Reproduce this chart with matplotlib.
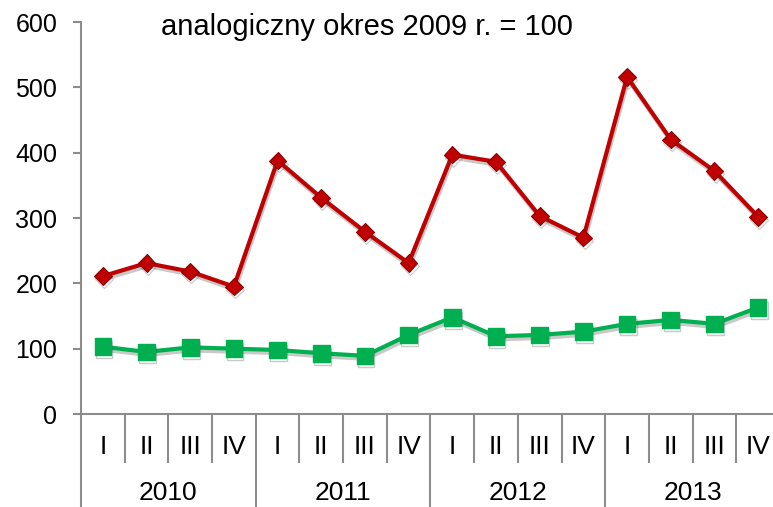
import matplotlib
matplotlib.use("Agg")
import matplotlib.pyplot as plt
import matplotlib.patheffects as pe

# quarters and years on the two-level x axis
years = ["2010", "2011", "2012", "2013"]
quarters = ["I", "II", "III", "IV"]

# index values, same period of 2009 = 100
red_values = [211, 231, 218, 195, 388, 331, 279, 231,
              397, 386, 303, 270, 516, 420, 372, 302]
green_values = [103, 95, 102, 100, 98, 93, 89, 121,
                148, 119, 121, 126, 138, 144, 138, 163]

plt.rcParams['font.family'] = ['Liberation Sans', 'DejaVu Sans']

fig = plt.figure(figsize=(7.73, 5.07), dpi=100)
ax = fig.add_axes([81 / 773, 93 / 507, (780 - 81) / 773, (414 - 22) / 507])

axis_gray = "#8c8c8c"
x = list(range(len(red_values)))

shadow = [pe.SimpleLineShadow(offset=(0.8, -2.2), shadow_color="0.3", alpha=0.3), pe.Normal()]

ax.plot(x, red_values, color="#c00000", lw=3, marker="D", ms=9,
        markerfacecolor="#c00000", markeredgecolor="#8b0000", markeredgewidth=0.8,
        path_effects=shadow, zorder=3)
ax.plot(x, green_values, color="#00b050", lw=3, marker="s", ms=12,
        markerfacecolor="#00b050", markeredgecolor="#00b050",
        path_effects=shadow, zorder=3)

ax.set_ylim(0, 600)
ax.set_xlim(-0.5, len(x) - 0.5)
ax.set_yticks(range(0, 601, 100))
ax.tick_params(axis="y", length=6, width=1.5, color=axis_gray, pad=11, labelsize=18)

for s in ["top", "right"]:
    ax.spines[s].set_visible(False)
for s in ["left", "bottom"]:
    ax.spines[s].set_color(axis_gray)
    ax.spines[s].set_linewidth(1.5)

# separators: long ticks between years, shorter between quarters
ax.set_xticks([-0.5 + 4 * k for k in range(len(years) + 1)])
ax.set_xticks([-0.5 + k for k in range(len(x) + 1)], minor=True)
ax.tick_params(axis="x", which="major", direction="out", length=70, width=1.5,
               color=axis_gray, labelbottom=False)
ax.tick_params(axis="x", which="minor", direction="out", length=35, width=1.5,
               color=axis_gray, labelbottom=False)

for i in x:
    ax.annotate(quarters[i % 4], xy=(i, 0), xycoords=("data", "axes fraction"),
                xytext=(0, -24), textcoords="offset points",
                ha="center", va="center", fontsize=19)
for j, yr in enumerate(years):
    ax.annotate(yr, xy=(4 * j + 1.5, 0), xycoords=("data", "axes fraction"),
                xytext=(0, -57), textcoords="offset points",
                ha="center", va="center", fontsize=19)

fig.text(367 / 773, 1 - 27 / 507, "analogiczny okres 2009 r. = 100",
         ha="center", va="center", fontsize=21)

fig.savefig("out.png", dpi=100)
